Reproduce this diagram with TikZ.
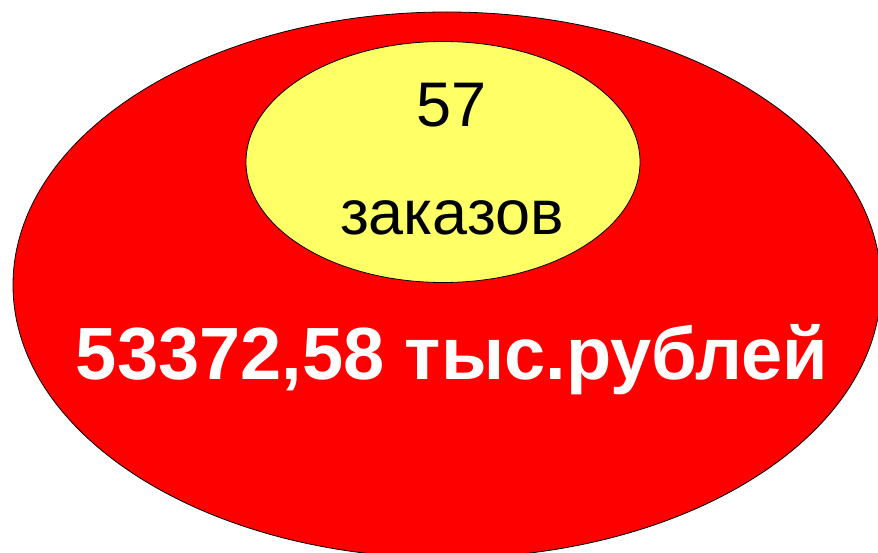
\documentclass[tikz,border=0pt]{standalone}
\usepackage{fontspec}
\setmainfont{Liberation Sans}
\usepackage{tikz}
\usetikzlibrary{shapes.geometric,positioning}
\definecolor{sumred}{HTML}{FF0000}
\definecolor{ordyellow}{HTML}{FFFF66}
\tikzset{
  blob/.style={ellipse,draw=black,line width=0.8pt,inner sep=0pt},
  small label/.style={anchor=base,inner sep=0pt,font=\fontsize{63}{63}\selectfont},
  big label/.style={anchor=base,inner sep=0pt,text=white,
    font=\fontsize{74}{74}\selectfont\bfseries}
}

\begin{document}
\begin{tikzpicture}[x=1pt,y=-1pt]
  \useasboundingbox (0,0) rectangle (878,553);
  % outer and inner ellipse
  \node[blob,fill=sumred,minimum width=868pt,minimum height=546pt] (total) at (447,285) {};
  \node[blob,fill=ordyellow,minimum width=394pt,minimum height=241pt] (orders) at (443,162) {};
  \node[small label] (count) at (452,127) {57};
  \node[small label] (unit) at (452,235) {заказов};
  \node[big label] (sum) at (452,379) {53372,58 тыс.рублей};
\end{tikzpicture}
\end{document}
